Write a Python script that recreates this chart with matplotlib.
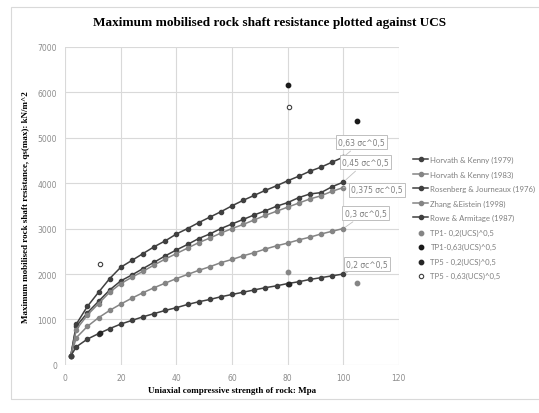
import matplotlib.pyplot as plt
from matplotlib.patches import Rectangle

# UCS (MPa) at which the empirical curves were evaluated
ucs = [2, 4, 8, 12, 16, 20, 24, 28, 32, 36, 40, 44, 48, 52, 56, 60,
       64, 68, 72, 76, 80, 84, 88, 92, 96, 100]

horvath_1979 = [200, 900, 1290, 1600, 1900, 2150, 2300, 2450, 2600, 2730, 2880, 3000, 3130,
                3250, 3370, 3500, 3620, 3730, 3840, 3940, 4050, 4150, 4260, 4350, 4460, 4570]
horvath_1983 = [200, 600, 850, 1040, 1200, 1340, 1470, 1590, 1700, 1800, 1900, 1990, 2080,
                2160, 2250, 2320, 2400, 2470, 2550, 2620, 2680, 2750, 2810, 2880, 2940, 3000]
rosenberg_1976 = [200, 850, 1150, 1400, 1650, 1850, 1980, 2120, 2260, 2400, 2530, 2650, 2780,
                  2880, 3000, 3100, 3200, 3300, 3390, 3490, 3570, 3680, 3760, 3790, 3920, 4020]
zhang_1998 = [200, 780, 1100, 1350, 1600, 1790, 1930, 2060, 2200, 2330, 2450, 2570, 2690,
              2790, 2900, 3000, 3090, 3190, 3290, 3380, 3470, 3560, 3650, 3720, 3820, 3900]
rowe_1987 = [200, 400, 570, 690, 800, 900, 980, 1060, 1130, 1200, 1260, 1330, 1390,
             1440, 1500, 1550, 1600, 1650, 1700, 1740, 1790, 1830, 1880, 1920, 1960, 2000]

line_names = ['Horvath & Kenny (1979)', 'Horvath & Kenny (1983)', 'Rosenberg & Journeaux (1976)',
              'Zhang &Eistein (1998)', 'Rowe & Armitage (1987)']

# test pile points
tp1_x = [80, 105]
tp1_02 = [2050, 1800]
tp1_063 = [6150, 5370]
tp5_x = [12.6, 80.6]
tp5_02 = [710, 1790]
tp5_063 = [2230, 5680]

# curve labels: text, end value of curve, label box position
labels = ['0,63 σc^0,5', '0,45 σc^0,5', '0,375 σc^0,5', '0,3 σc^0,5', '0,2 σc^0,5']
label_end = [4570, 4020, 3900, 3000, 2000]
label_pos = [(106.5, 4900), (108, 4460), (112, 3850), (108, 3340), (108.5, 2220)]

dark = '#404040'
gray = '#858585'

fig = plt.figure(figsize=(5.39, 4.14), dpi=100)
fig.patches.append(Rectangle((11 / 539, 0.035), 1, 0.945, transform=fig.transFigure,
                             fill=False, edgecolor='#d9d9d9', linewidth=0.8))
ax = fig.add_axes([0.121, 0.116, 0.619, 0.769])

series = [horvath_1979, horvath_1983, rosenberg_1976, zhang_1998, rowe_1987]
colors = [dark, gray, dark, gray, dark]
handles = []
for name, data, c in zip(line_names, series, colors):
    h, = ax.plot(ucs, data, '-o', color=c, markersize=3, linewidth=1.1, label=name)
    handles.append(h)

s1 = ax.scatter(tp1_x, tp1_02, s=10, color=gray, label='TP1- 0,2(UCS)^0,5', zorder=3)
s2 = ax.scatter(tp1_x, tp1_063, s=10, color='#1a1a1a', label='TP1-0,63(UCS)^0,5', zorder=3)
s3 = ax.scatter(tp5_x, tp5_02, s=10, color='#262626', label='TP5 - 0,2(UCS)^0,5', zorder=3)
s4 = ax.scatter(tp5_x, tp5_063, s=10, facecolor='white', edgecolor='#404040', linewidth=0.8,
                label='TP5 - 0,63(UCS)^0,5', zorder=3)

for txt, yend, (lx, ly) in zip(labels, label_end, label_pos):
    ax.annotate(txt, xy=(100, yend), xytext=(lx, ly), fontsize=5.5, color='#7f7f7f',
                ha='center', va='center', annotation_clip=False,
                bbox=dict(boxstyle='square,pad=0.3', fc='white', ec='#bfbfbf', lw=0.7),
                arrowprops=dict(arrowstyle='-', color='#bfbfbf', lw=0.6))

ax.set_xlim(0, 120)
ax.set_ylim(0, 7000)
ax.set_xticks(range(0, 121, 20))
ax.set_yticks(range(0, 7001, 1000))
ax.grid(True, color='#d9d9d9', linewidth=0.8)
ax.set_axisbelow(True)
for sp in ax.spines.values():
    sp.set_visible(False)
ax.tick_params(length=0, labelsize=5.5, labelcolor='#8c8c8c', pad=6)

ax.set_xlabel('Uniaxial compressive strength of rock: Mpa', fontsize=6.5, fontweight='bold',
              family='Liberation Serif', labelpad=3)
ax.set_ylabel('Maximum mobilised rock shaft resistance, qs(max): kN/m^2', fontsize=6.5,
              fontweight='bold', family='Liberation Serif', labelpad=5)
fig.text(0.5, 0.945, 'Maximum mobilised rock shaft resistance plotted against UCS', ha='center',
         va='center', fontsize=9.5, fontweight='bold', family='Liberation Serif')

all_h = handles + [s1, s2, s3, s4]
fig.legend(all_h, [h.get_label() for h in all_h],
           loc='upper left', bbox_to_anchor=(0.764, 0.625), frameon=False,
           prop={'family': 'Lato', 'size': 5.6},
           labelcolor='#7f7f7f', handlelength=1.9, handletextpad=0.3, labelspacing=0.95,
           borderaxespad=0, borderpad=0.2)

fig.savefig('out.png', dpi=100)
